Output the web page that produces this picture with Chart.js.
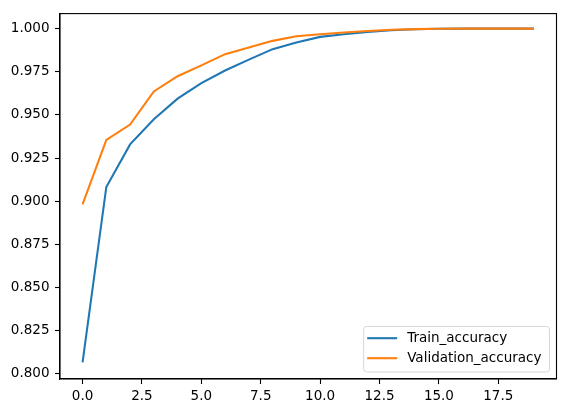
<!DOCTYPE html>
<html>
<head>
<meta charset="utf-8">
<script src="https://cdn.jsdelivr.net/npm/chart.js@4.4.1/dist/chart.umd.min.js"></script>
<style>
  html, body { margin: 0; padding: 0; background: #fff; }
  #wrap { width: 565px; height: 413px; }
</style>
</head>
<body>
<div id="wrap"><canvas id="accChart" width="565" height="413"></canvas></div>
<script>
// accuracy per epoch
const epochs = [0, 1, 2, 3, 4, 5, 6, 7, 8, 9, 10, 11, 12, 13, 14, 15, 16, 17, 18, 19];
const trainAcc = [0.8065, 0.9082, 0.9329, 0.9475, 0.9594, 0.9684, 0.9757, 0.9820, 0.9881, 0.9920,
                  0.9952, 0.9967, 0.9980, 0.9990, 0.9996, 0.9999, 1.0, 1.0, 1.0, 1.0];
const valAcc = [0.8981, 0.9355, 0.9444, 0.9636, 0.9724, 0.9787, 0.9852, 0.9891, 0.9929, 0.9956,
                0.9967, 0.9977, 0.9986, 0.9993, 0.9997, 0.9999, 1.0, 1.0, 1.0, 1.0];
const xTicks = [0, 2.5, 5, 7.5, 10, 12.5, 15, 17.5];
const yTicks = [0.8, 0.825, 0.85, 0.875, 0.9, 0.925, 0.95, 0.975, 1.0];
const seriesNames = ['Train_accuracy', 'Validation_accuracy'];

const BLUE = '#1f77b4';
const ORANGE = '#ff7f0e';
const FONT = "'DejaVu Sans', sans-serif";
const FONT_SIZE = 13.5;

const toPoints = vals => epochs.map((e, i) => ({ x: e, y: vals[i] }));

// top/right spines, since chart.js only draws the axis borders
const framePlugin = {
  id: 'frame',
  afterDraw(chart) {
    const { ctx, chartArea: a } = chart;
    ctx.save();
    ctx.strokeStyle = '#000';
    ctx.lineWidth = 1.1;
    ctx.strokeRect(a.left, a.top, a.right - a.left, a.bottom - a.top);
    ctx.restore();
  }
};

// matplotlib style legend, lower right inside the axes
const legendPlugin = {
  id: 'mplLegend',
  afterDraw(chart) {
    const { ctx, chartArea: a } = chart;
    const colors = [BLUE, ORANGE];
    ctx.save();
    ctx.font = `${FONT_SIZE}px ${FONT}`;
    const textW = Math.max(...seriesNames.map(n => ctx.measureText(n).width));
    const right = a.right - 7;
    const bottom = a.bottom - 7;
    const top = bottom - 45.6;
    const textX = right - 8 - textW;
    const lineStart = textX - 40;
    const lineEnd = textX - 10;
    const left = lineStart - 3.5;

    ctx.beginPath();
    ctx.roundRect(left, top, right - left, bottom - top, 3);
    ctx.fillStyle = 'rgba(255,255,255,0.8)';
    ctx.fill();
    ctx.strokeStyle = '#d6d6d6';
    ctx.lineWidth = 1;
    ctx.stroke();

    seriesNames.forEach((name, i) => {
      const y = top + 11.8 + i * 20;
      ctx.beginPath();
      ctx.moveTo(lineStart, y);
      ctx.lineTo(lineEnd, y);
      ctx.strokeStyle = colors[i];
      ctx.lineWidth = 2.08;
      ctx.stroke();
      ctx.fillStyle = '#000';
      ctx.textBaseline = 'middle';
      ctx.fillText(name, textX, y + 0.5);
    });
    ctx.restore();
  }
};

new Chart(document.getElementById('accChart').getContext('2d'), {
  type: 'line',
  data: {
    datasets: [
      {
        label: seriesNames[0],
        data: toPoints(trainAcc),
        borderColor: BLUE,
        borderWidth: 2.08,
        pointRadius: 0,
        tension: 0,
        fill: false,
        order: 1
      },
      {
        label: seriesNames[1],
        data: toPoints(valAcc),
        borderColor: ORANGE,
        borderWidth: 2.08,
        pointRadius: 0,
        tension: 0,
        fill: false,
        order: 0
      }
    ]
  },
  options: {
    responsive: false,
    animation: false,
    layout: { padding: { top: 10.5, right: 8.5, left: 0, bottom: 0 } },
    plugins: {
      legend: { display: false },
      tooltip: { enabled: false }
    },
    scales: {
      x: {
        type: 'linear',
        min: -0.95,
        max: 19.95,
        afterBuildTicks: s => { s.ticks = xTicks.map(v => ({ value: v })); },
        afterFit: s => { s.height = 34; },
        grid: { drawOnChartArea: false, drawTicks: true, tickLength: 5, tickColor: '#000', tickWidth: 1.1 },
        border: { display: true, color: '#000', width: 1.1 },
        ticks: {
          color: '#000',
          padding: 4,
          maxRotation: 0,
          font: { family: FONT, size: FONT_SIZE },
          callback: v => v.toFixed(1)
        }
      },
      y: {
        type: 'linear',
        min: 0.7969,
        max: 1.0087,
        afterBuildTicks: s => { s.ticks = yTicks.map(v => ({ value: v })); },
        afterFit: s => { s.width = 60; },
        grid: { drawOnChartArea: false, drawTicks: true, tickLength: 5, tickColor: '#000', tickWidth: 1.1 },
        border: { display: true, color: '#000', width: 1.1 },
        ticks: {
          color: '#000',
          padding: 5.5,
          font: { family: FONT, size: FONT_SIZE },
          callback: v => v.toFixed(3)
        }
      }
    }
  },
  plugins: [framePlugin, legendPlugin]
});
</script>
</body>
</html>
